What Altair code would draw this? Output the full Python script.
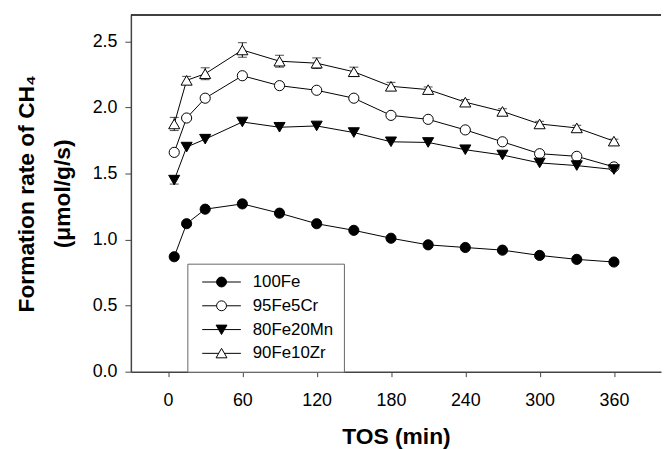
import altair as alt
import pandas as pd

tos = [5, 15, 30, 60, 90, 120, 150, 180, 210, 240, 270, 300, 330, 360]
series_names = ["100Fe", "95Fe5Cr", "80Fe20Mn", "90Fe10Zr"]
fe100 = [0.87, 1.12, 1.23, 1.27, 1.20, 1.12, 1.07, 1.01, 0.96, 0.94, 0.92, 0.88, 0.85, 0.83]
fe95cr5 = [1.66, 1.92, 2.07, 2.24, 2.165, 2.13, 2.07, 1.94, 1.91, 1.83, 1.74, 1.65, 1.63, 1.55]
fe80mn20 = [1.45, 1.70, 1.76, 1.89, 1.85, 1.86, 1.81, 1.74, 1.735, 1.68, 1.64, 1.58, 1.56, 1.53]
fe90zr10 = [1.875, 2.205, 2.255, 2.435, 2.35, 2.335, 2.27, 2.16, 2.135, 2.04, 1.97, 1.875, 1.845, 1.745]
err100 = [0.0] * 14
err95 = [0.0] * 14
err80 = [0.03] + [0.0] * 13
err90 = [0.05, 0.03, 0.045, 0.055, 0.045, 0.04, 0.035, 0.03, 0.02, 0.02, 0.02, 0.02, 0.02, 0.015]

x_ticks = [0, 60, 120, 180, 240, 300, 360]
y_ticks = [0.0, 0.5, 1.0, 1.5, 2.0, 2.5]

marker_shapes = ["circle", "circle", "triangle-down", "triangle-up"]
marker_fills = ["black", "white", "black", "white"]

rows = []
for name, vals, errs in zip(series_names, [fe100, fe95cr5, fe80mn20, fe90zr10],
                            [err100, err95, err80, err90]):
    for t, v, e in zip(tos, vals, errs):
        rows.append({"series": name, "tos": t, "rate": v, "err": e,
                     "lo": v - e, "hi": v + e})
df = pd.DataFrame(rows)

W, H = 535, 360
FONT = "Liberation Sans"

xs = alt.Scale(domain=[-30, 398], nice=False, zero=False)
ys = alt.Scale(domain=[0, 2.7], nice=False)
xenc = alt.X("tos:Q", scale=xs,
             axis=alt.Axis(values=x_ticks, title="TOS (min)", grid=False))
yenc = alt.Y("rate:Q", scale=ys,
             axis=alt.Axis(values=y_ticks, format=".1f", grid=False,
                           title=["Formation rate of CH\u2084", "(\u03bcmol/g/s)"]))

base = alt.Chart(df)

lines = base.mark_line(color="black", strokeWidth=1).encode(
    x=xenc, y=yenc, detail="series:N")

eb = base.transform_filter("datum.err > 0")
rules = eb.mark_rule(color="black", strokeWidth=1).encode(
    x="tos:Q", y="lo:Q", y2="hi:Q")
cap_lo = eb.mark_tick(color="black", orient="horizontal", size=9, thickness=1).encode(
    x="tos:Q", y="lo:Q")
cap_hi = eb.mark_tick(color="black", orient="horizontal", size=9, thickness=1).encode(
    x="tos:Q", y="hi:Q")

point_layers = []
for name, shp, fil in zip(series_names, marker_shapes, marker_fills):
    sz = 105 if shp == "circle" else 125
    point_layers.append(
        base.transform_filter(alt.datum.series == name).mark_point(
            shape=shp, filled=True, fill=fil, stroke="black", strokeWidth=1,
            opacity=1, size=sz).encode(x="tos:Q", y="rate:Q"))

leg_paths = [
    "M-3.9,0H3.9M-1,0A1,1,0,1,0,1,0A1,1,0,1,0,-1,0Z",
    "M-3.9,0H-1M1,0H3.9M-1,0A1,1,0,1,0,1,0A1,1,0,1,0,-1,0Z",
    "M-3.9,0H3.9M-1.1,-0.9L1.1,-0.9L0,1Z",
    "M-3.9,0H-0.58M0.58,0H3.9M0,-1L1.1,0.9L-1.1,0.9Z",
]
leg = alt.Legend(orient="none", legendX=57, legendY=251, title=None)
legend_layer = base.transform_filter("false").mark_point(
    filled=True, strokeWidth=1, opacity=1).encode(
    x="tos:Q", y="rate:Q",
    shape=alt.Shape("series:N", scale=alt.Scale(domain=series_names, range=leg_paths),
                    title=None, legend=leg),
    fill=alt.Fill("series:N", scale=alt.Scale(domain=series_names, range=marker_fills),
                  title=None, legend=leg),
    stroke=alt.Stroke("series:N", scale=alt.Scale(domain=series_names,
                                                  range=["black"] * 4),
                      title=None, legend=leg),
)

top_rule = alt.Chart(alt.Data(values=[{}])).mark_rule(color="black", strokeWidth=1.5).encode(
    x=alt.value(0), x2=alt.value(W), y=alt.value(0))

chart = alt.layer(lines, rules, cap_lo, cap_hi, *point_layers, legend_layer, top_rule).properties(
    width=W, height=H,
    padding={"left": 124, "top": 5, "right": 1, "bottom": 76},
    autosize="none",
).configure_view(stroke=None).configure_axis(
    labelFont=FONT, titleFont=FONT, labelFontSize=18, titleFontSize=23,
    titleFontWeight="bold", labelColor="black", titleColor="black",
    domainColor="#444444", domainWidth=1.5, tickColor="#444444", tickWidth=1,
    tickSize=5,
).configure_axisY(
    labelPadding=8, titlePadding=18, titleLineHeight=36, tickSize=6,
).configure_axisX(
    labelPadding=15, titlePadding=16,
).configure_legend(
    labelFont=FONT, labelFontSize=17, labelColor="black",
    strokeColor="#666666", fillColor="white", padding=10,
    symbolSize=100, symbolStrokeWidth=1,
    symbolOffset=16, labelOffset=23, rowPadding=6,
)

chart.save("out.html", embed_options={"renderer": "svg", "actions": False})
